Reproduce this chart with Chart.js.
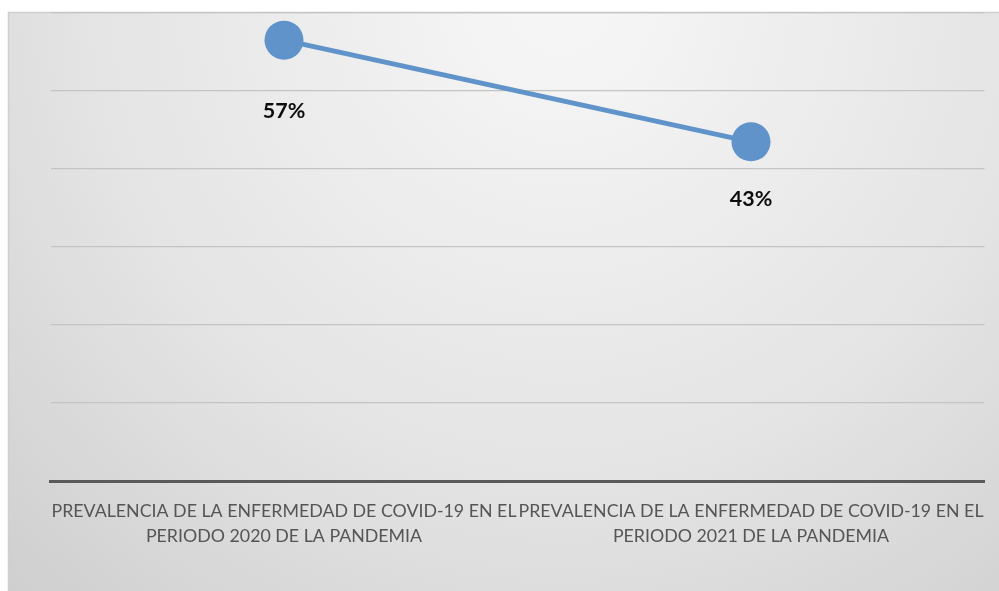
<!DOCTYPE html>
<html>
<head>
<meta charset="utf-8">
<script src="https://cdn.jsdelivr.net/npm/chart.js@4/dist/chart.umd.min.js"></script>
<style>
  html, body { margin: 0; padding: 0; background: #fff; }
  #wrap { width: 999px; height: 591px; position: relative; }
</style>
</head>
<body>
<div id="wrap"><canvas id="chart" width="999" height="591"></canvas></div>
<script>
/* ─── Data ─────────────────────────────────────────────────────────────── */
const categories = [
  ['PREVALENCIA DE LA ENFERMEDAD DE COVID-19 EN EL', 'PERIODO 2020 DE LA PANDEMIA'],
  ['PREVALENCIA DE LA ENFERMEDAD DE COVID-19 EN EL', 'PERIODO 2021 DE LA PANDEMIA']
];
const prevalence = [0.5652, 0.4348];
const yTicks     = [0, 0.1, 0.2, 0.3, 0.4, 0.5, 0.6];

/* ─── Plugins ──────────────────────────────────────────────────────────── */
const panelBg = {
  id: 'panelBg',
  beforeDraw(chart) {
    const { ctx, width, height } = chart;
    ctx.save();
    ctx.fillStyle = '#fff';
    ctx.fillRect(0, 0, width, height);
    const g = ctx.createRadialGradient(560, 0, 50, 560, 0, 900);
    g.addColorStop(0, '#f5f5f5');
    g.addColorStop(0.5, '#e4e4e4');
    g.addColorStop(1, '#c9c9c9');
    ctx.fillStyle = g;
    ctx.fillRect(8.5, 12.5, width, height);
    ctx.strokeStyle = '#cfcfcf';
    ctx.lineWidth = 1.5;
    ctx.strokeRect(8.5, 12.5, width, height);
    ctx.restore();
  }
};

const pointLabels = {
  id: 'pointLabels',
  afterDatasetsDraw(chart, args, opts) {
    const { ctx } = chart;
    const meta = chart.getDatasetMeta(0);
    ctx.save();
    ctx.font = 'bold 21.5px Lato, "Open Sans", sans-serif';
    ctx.fillStyle = '#0d0d0d';
    ctx.textAlign = 'center';
    ctx.textBaseline = 'middle';
    meta.data.forEach((pt, i) => {
      const v = chart.data.datasets[0].data[i];
      ctx.fillText(Math.round(v * 100) + '%', pt.x, pt.y + opts.offsets[i]);
    });
    ctx.restore();
  }
};

/* ─── Chart ────────────────────────────────────────────────────────────── */
new Chart(document.getElementById('chart'), {
  type: 'line',
  data: {
    labels: categories,
    datasets: [{
      data: prevalence,
      borderColor: '#5f93c9',
      borderWidth: 5,
      backgroundColor: '#5f93c9',
      pointBackgroundColor: '#5f93c9',
      pointBorderWidth: 0,
      pointRadius: 19.5,
      tension: 0,
      clip: false
    }]
  },
  options: {
    responsive: false,
    animation: false,
    layout: { autoPadding: false, padding: { left: 50.5, right: 14.5, top: 13, bottom: 0 } },
    plugins: {
      legend: { display: false },
      tooltip: { enabled: false },
      pointLabels: { offsets: [71, 57] }
    },
    scales: {
      x: {
        offset: true,
        grid: { display: false },
        border: { display: true, color: '#5a5a5a', width: 3 },
        ticks: {
          maxRotation: 0,
          autoSkip: false,
          color: '#555',
          padding: 10,
          font: { family: 'Lato, "Open Sans", sans-serif', size: 17.8, lineHeight: 1.4 }
        },
        afterFit: s => { s.height = 110; s.paddingLeft = 0; s.paddingRight = 0; }
      },
      y: {
        display: true,
        min: 0,
        max: 0.6,
        afterBuildTicks: s => { s.ticks = yTicks.map(v => ({ value: v })); },
        ticks: { display: false },
        border: { display: false },
        grid: { color: '#c4c4c4', lineWidth: 1.2, drawTicks: false },
        afterFit: s => { s.width = 0; s.paddingTop = 0; s.paddingBottom = 0; }
      }
    }
  },
  plugins: [panelBg, pointLabels]
});
</script>
</body>
</html>
